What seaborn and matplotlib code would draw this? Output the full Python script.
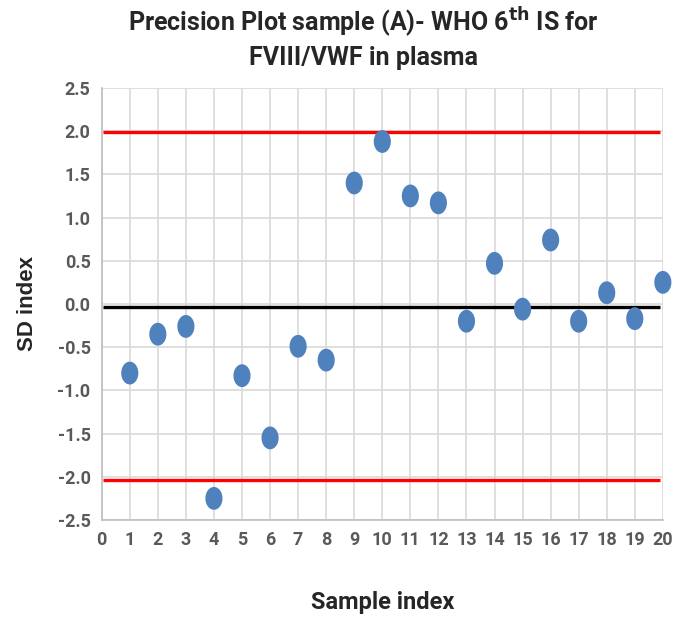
import numpy as np
import pandas as pd
import matplotlib
matplotlib.use("Agg")
import matplotlib.pyplot as plt
import seaborn as sns
from matplotlib.path import Path

sample_index = list(range(1, 21))
sd_index = [-0.80, -0.35, -0.26, -2.25, -0.83, -1.55, -0.49, -0.65, 1.40, 1.88,
            1.25, 1.17, -0.20, 0.47, -0.06, 0.74, -0.20, 0.13, -0.17, 0.25]
upper_limit = 1.99
lower_limit = -2.04
mean_line = -0.03
y_ticks = [2.5, 2.0, 1.5, 1.0, 0.5, 0.0, -0.5, -1.0, -1.5, -2.0, -2.5]
x_ticks = list(range(0, 21))

df = pd.DataFrame({"Sample index": sample_index, "SD index": sd_index})

sns.set_style("white")
plt.rcParams["font.family"] = ["Roboto", "DejaVu Sans"]

fig = plt.figure(figsize=(6.75, 6.28), dpi=100)
ax = fig.add_axes([0.1507, 0.172, 0.8313, 0.688])

t = np.linspace(0, 2 * np.pi, 60)
ellipse = Path(np.column_stack([0.75 * np.cos(t), np.sin(t)]), closed=True)

ax.hlines([upper_limit, lower_limit], 0.05, 19.9, colors="#ff0000", linewidth=2.4, zorder=2)
ax.hlines([mean_line], 0.05, 19.9, colors="#000000", linewidth=2.4, zorder=2)

sns.scatterplot(data=df, x="Sample index", y="SD index", ax=ax, marker=ellipse,
                s=270, color="#4f81bd", edgecolor="none", zorder=3, clip_on=False)

ax.set_xlim(0, 20)
ax.set_ylim(-2.5, 2.5)
ax.set_xticks(x_ticks)
ax.set_xticklabels([str(v) for v in x_ticks])
ax.set_yticks(y_ticks)
ax.set_yticklabels([f"{v:.1f}" for v in y_ticks])
ax.grid(True, color="#d9d9d9", linewidth=1.2, zorder=0)
ax.set_axisbelow(True)
for s in ["top", "right"]:
    ax.spines[s].set_visible(False)
for s in ["left", "bottom"]:
    ax.spines[s].set_color("#bfbfbf")
    ax.spines[s].set_linewidth(1.2)
ax.tick_params(axis="both", which="both", length=5, color="#bfbfbf", width=1.2,
               labelsize=13, labelcolor="#595959", pad=3)
for lab in ax.get_xticklabels() + ax.get_yticklabels():
    lab.set_fontweight("bold")

ax.set_xlabel("Sample index", fontsize=17, fontweight="bold", labelpad=30)
ax.set_ylabel("SD index", fontsize=16, fontweight="bold", labelpad=14,
              family=["Liberation Sans", "DejaVu Sans"])
fig.suptitle("Precision Plot sample (A)- WHO 6$^{\\mathbf{th}}$ IS for\nFVIII/VWF in plasma",
             fontsize=18, fontweight="bold", x=0.538, y=0.99, linespacing=1.3)

fig.savefig("out.png", dpi=100)
